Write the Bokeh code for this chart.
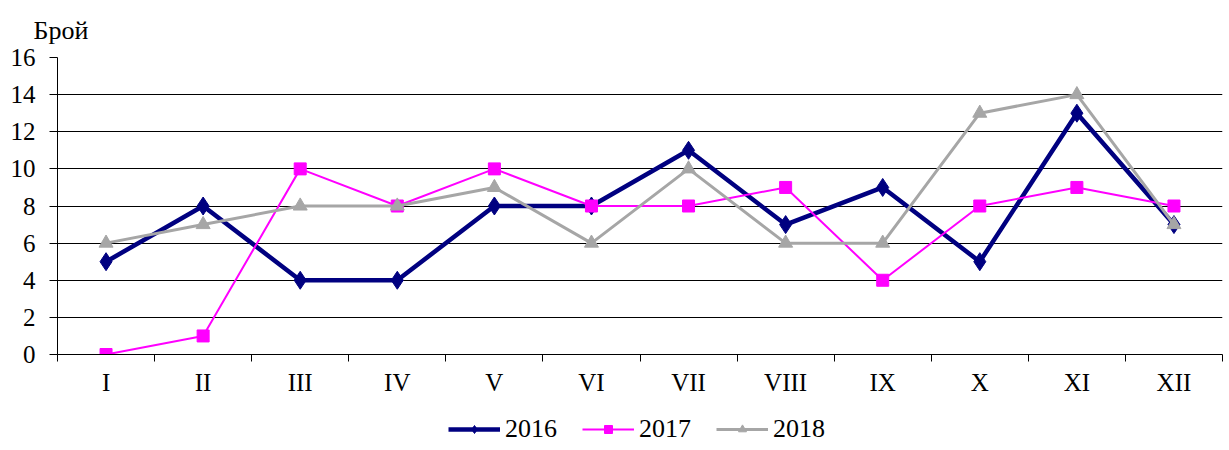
from bokeh.plotting import figure
from bokeh.layouts import column
from bokeh.models import Range1d, FixedTicker, Legend, LegendItem, Title
from bokeh.embed import file_html
from bokeh.resources import INLINE

months = ["I", "II", "III", "IV", "V", "VI", "VII", "VIII", "IX", "X", "XI", "XII"]
y2016 = [5, 8, 4, 4, 8, 8, 11, 7, 9, 5, 13, 7]
y2017 = [0, 1, 10, 8, 10, 8, 8, 9, 4, 8, 9, 8]
y2018 = [6, 7, 8, 8, 9, 6, 10, 6, 6, 13, 14, 7]
y_ticks = [0, 2, 4, 6, 8, 10, 12, 14, 16]
y_label = "Брой"
series = [("2016", y2016, "#000080", 4.5, "diamond", 18),
          ("2017", y2017, "#FF00FF", 2, "square", 12),
          ("2018", y2018, "#A6A6A6", 3, "triangle", 14)]

FONT = "Liberation Serif"
xs = [i + 0.5 for i in range(len(months))]

p = figure(frame_width=1165, frame_height=297, output_backend="svg", toolbar_location=None,
           x_range=Range1d(0, len(months)), y_range=Range1d(0, 16),
           min_border_left=57, min_border_right=2, min_border_top=57, min_border_bottom=0)
p.outline_line_color = None
p.background_fill_color = "white"
p.border_fill_color = "white"

t = Title(text=y_label, text_font=FONT, text_font_size="26px", text_font_style="normal",
          text_color="black", align="left", offset=-24, standoff=26)
p.add_layout(t, "above")
p.title.visible = False

# x axis
p.xaxis.ticker = FixedTicker(ticks=xs, minor_ticks=list(range(len(months) + 1)))
p.xaxis.major_label_overrides = {x: m for x, m in zip(xs, months)}
p.xaxis.major_tick_line_color = None
p.xaxis.minor_tick_out = 7
p.xaxis.minor_tick_in = 0
p.xaxis.minor_tick_line_color = "black"
p.xaxis.axis_line_color = "black"
p.xaxis.major_label_text_font = FONT
p.xaxis.major_label_text_font_size = "25px"
p.xaxis.major_label_text_color = "black"
p.xaxis.major_label_standoff = 7

# y axis
p.yaxis.ticker = FixedTicker(ticks=y_ticks)
p.yaxis.major_tick_out = 8
p.yaxis.major_tick_in = 0
p.yaxis.minor_tick_line_color = None
p.yaxis.axis_line_color = "black"
p.yaxis.major_label_text_font = FONT
p.yaxis.major_label_text_font_size = "25px"
p.yaxis.major_label_text_color = "black"
p.yaxis.major_label_standoff = 14

p.xgrid.grid_line_color = None
p.ygrid.grid_line_color = "black"
p.ygrid.grid_line_width = 1

# legend strip: same series drawn outside its visible range, only the legend shows
lf = figure(width=1224, height=46, output_backend="svg", toolbar_location=None,
            x_range=Range1d(0, 1), y_range=Range1d(1000, 1001),
            x_axis_type=None, y_axis_type=None,
            min_border_left=0, min_border_right=0, min_border_top=0, min_border_bottom=0)
lf.outline_line_color = None
lf.grid.visible = False

items = []
for name, ys, color, lw, marker, size in series:
    p.line(xs, ys, line_color=color, line_width=lw)
    p.scatter(xs, ys, marker=marker, size=size, fill_color=color, line_color=color)
    lr = lf.line(xs, ys, line_color=color, line_width=lw)
    sr = lf.scatter(xs, ys, marker=marker, size=size, fill_color=color, line_color=color)
    items.append(LegendItem(label=name, renderers=[lr, sr]))

legend = Legend(items=items, orientation="horizontal", location=(391, 0))
legend.label_text_font = FONT
legend.label_text_font_size = "26px"
legend.label_text_color = "black"
legend.glyph_width = 52
legend.glyph_height = 20
legend.spacing = 25
legend.label_standoff = 5
legend.border_line_color = None
legend.background_fill_alpha = 0
legend.margin = 0
legend.padding = 0
lf.add_layout(legend, "center")

layout = column(p, lf, spacing=0)
open("out.html", "w").write(file_html(layout, INLINE))
